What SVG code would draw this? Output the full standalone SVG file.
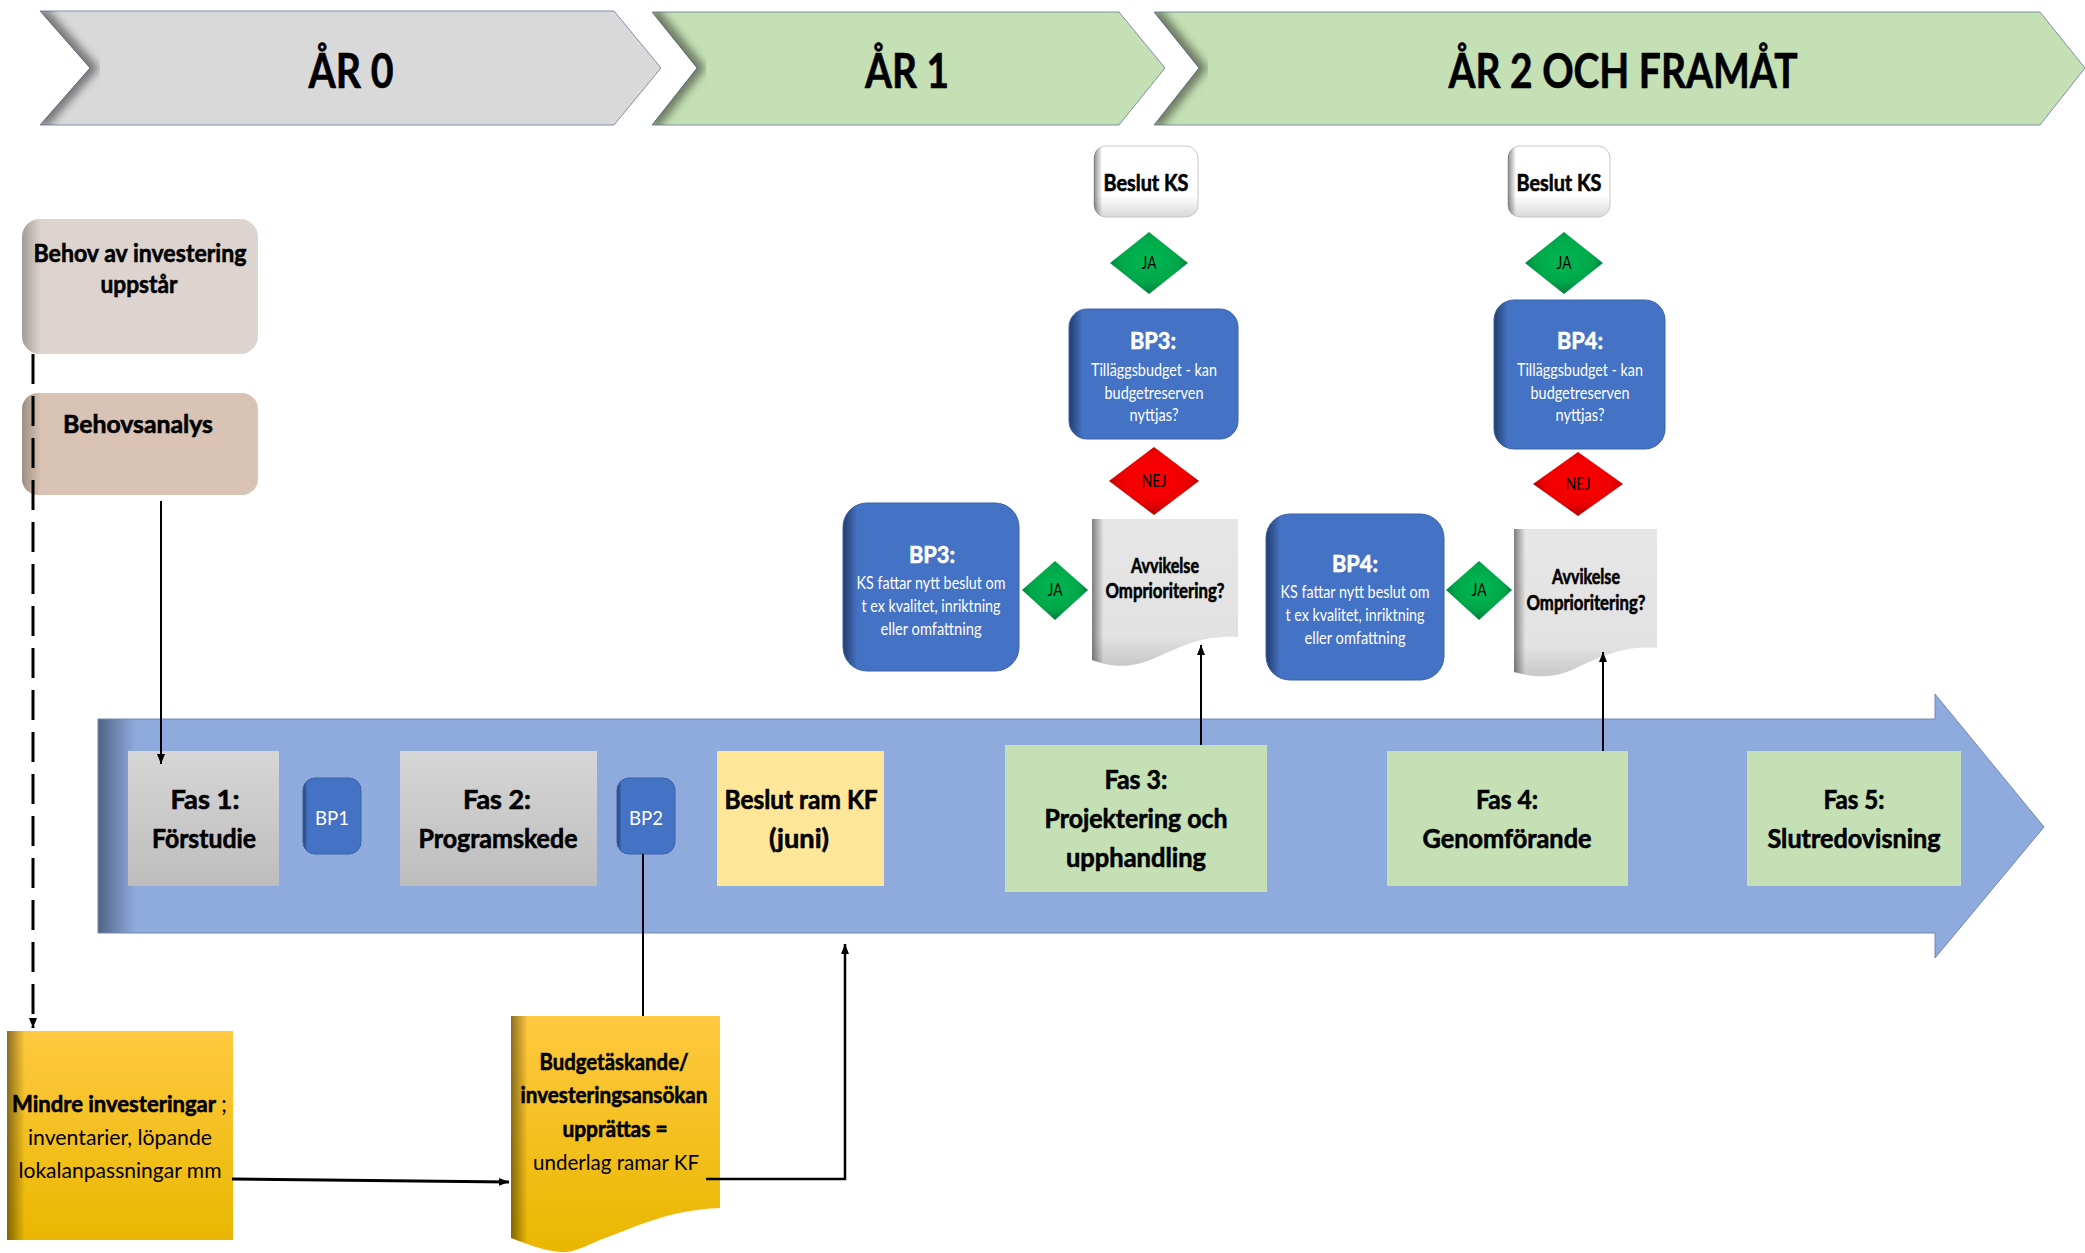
<svg xmlns="http://www.w3.org/2000/svg" width="2085" height="1253" viewBox="0 0 2085 1253">
<style>
.t{font-family:Lato,'Liberation Sans',sans-serif;text-anchor:middle;fill:#000}
.b{font-weight:700;stroke:#000;stroke-width:.6}
.w{fill:#fff}
.b.w{stroke:#fff}
.ln{fill:none;stroke:#000;stroke-width:2}
.hd{stroke:#7F8FA6;stroke-width:1}
.sh{fill:none;stroke:#000;stroke-width:14;stroke-opacity:.45;filter:url(#blur)}
.blue{fill:url(#gBlue);stroke:#3A62A8;stroke-width:1}
.edge{fill:url(#gEdge)}
</style>
<defs>
<filter id="blur" x="-20%" y="-20%" width="140%" height="140%"><feGaussianBlur stdDeviation="4"/></filter>
<marker id="arr" viewBox="0 0 10 10" refX="10" refY="5" markerWidth="10" markerHeight="10" markerUnits="userSpaceOnUse" orient="auto"><path d="M0,1 L10,5 L0,9 z" fill="#000"/></marker>
<linearGradient id="gBlue" x1="0" y1="0" x2="1" y2="0"><stop offset="0" stop-color="#233D6B"/><stop offset=".08" stop-color="#4472C4"/><stop offset="1" stop-color="#4472C4"/></linearGradient>
<linearGradient id="gEdge" x1="0" y1="0" x2="1" y2="0"><stop offset="0" stop-color="#000" stop-opacity=".45"/><stop offset=".08" stop-color="#000" stop-opacity="0"/><stop offset="1" stop-color="#000" stop-opacity="0"/></linearGradient>
<linearGradient id="gBand" gradientUnits="userSpaceOnUse" x1="98" y1="0" x2="135" y2="0"><stop offset="0" stop-color="#4F6284"/><stop offset="1" stop-color="#8FAADC"/></linearGradient>
<linearGradient id="gGray" x1="0" y1="0" x2="0" y2="1"><stop offset="0" stop-color="#D6D6D6"/><stop offset="1" stop-color="#BDBDBD"/></linearGradient>
<linearGradient id="gGold" x1="0" y1="0" x2="0" y2="1"><stop offset="0" stop-color="#FFC940"/><stop offset="1" stop-color="#E9B700"/></linearGradient>
<linearGradient id="gWhite" x1="0" y1="0" x2="0" y2="1"><stop offset="0" stop-color="#FFFFFF"/><stop offset=".7" stop-color="#FFFFFF"/><stop offset="1" stop-color="#D8D8D8"/></linearGradient>
<linearGradient id="gDoc" x1="0" y1="0" x2="0" y2="1"><stop offset="0" stop-color="#E6E6E6"/><stop offset=".8" stop-color="#E2E2E2"/><stop offset="1" stop-color="#C8C8C8"/></linearGradient>
<radialGradient id="gGreen" cx=".5" cy=".45" r=".6"><stop offset="0" stop-color="#00B853"/><stop offset=".6" stop-color="#00A84A"/><stop offset="1" stop-color="#00703A"/></radialGradient>
<radialGradient id="gRed" cx=".5" cy=".45" r=".6"><stop offset="0" stop-color="#FF0000"/><stop offset=".6" stop-color="#F00000"/><stop offset="1" stop-color="#A00000"/></radialGradient>
<clipPath id="c0"><polygon points="40,11 614,11 661,68 614,125 40,125 90,68"/></clipPath>
<clipPath id="c1"><polygon points="652,12 1119,12 1165,68 1119,125 652,125 697,68"/></clipPath>
<clipPath id="c2"><polygon points="1154,12 2040,12 2085,68 2040,125 1154,125 1199,68"/></clipPath>
</defs>

<rect x="0" y="0" width="2085" height="1253" fill="#fff"/>

<g id="header-ar0">
<polygon class="hd" points="40,11 614,11 661,68 614,125 40,125 90,68" fill="#D9D9D9"/>
<polyline class="sh" clip-path="url(#c0)" points="40,11 90,68 40,125"/>
<text class="t b" x="351" y="88" font-size="48" textLength="85" lengthAdjust="spacingAndGlyphs">ÅR 0</text>
</g>
<g id="header-ar1">
<polygon class="hd" points="652,12 1119,12 1165,68 1119,125 652,125 697,68" fill="#C5E0B4"/>
<polyline class="sh" clip-path="url(#c1)" points="652,12 697,68 652,125"/>
<text class="t b" x="907" y="88" font-size="48" textLength="84" lengthAdjust="spacingAndGlyphs">ÅR 1</text>
</g>
<g id="header-ar2">
<polygon class="hd" points="1154,12 2040,12 2085,68 2040,125 1154,125 1199,68" fill="#C5E0B4"/>
<polyline class="sh" clip-path="url(#c2)" points="1154,12 1199,68 1154,125"/>
<text class="t b" x="1623" y="88" font-size="48" textLength="349" lengthAdjust="spacingAndGlyphs">ÅR 2 OCH FRAMÅT</text>
</g>

<g id="band">
<polygon points="98,719 1935,719 1935,694 2044,827 1935,958 1935,933 98,933" fill="url(#gBand)" stroke="#7488B0" stroke-width="1"/>
</g>

<g id="behov">
<rect x="22" y="219" width="236" height="135" rx="18" fill="#DDD4CF"/>
<rect x="22" y="219" width="236" height="135" rx="18" class="edge" opacity=".6"/>
<text class="t b" x="140" y="262" font-size="25" textLength="213" lengthAdjust="spacingAndGlyphs">Behov av investering</text>
<text class="t b" x="139" y="293" font-size="25" textLength="77" lengthAdjust="spacingAndGlyphs">uppstår</text>
</g>
<g id="behovsanalys">
<rect x="22" y="393" width="236" height="102" rx="16" fill="#D9C3B4"/>
<rect x="22" y="393" width="236" height="102" rx="16" class="edge" opacity=".6"/>
<text class="t b" x="138" y="433" font-size="25" textLength="150" lengthAdjust="spacingAndGlyphs">Behovsanalys</text>
</g>

<g id="fas1">
<rect x="128" y="751" width="151" height="135" fill="url(#gGray)"/>
<text class="t b" x="205" y="809" font-size="26" textLength="69" lengthAdjust="spacingAndGlyphs">Fas 1:</text>
<text class="t b" x="204" y="848" font-size="26" textLength="104" lengthAdjust="spacingAndGlyphs">Förstudie</text>
</g>
<g id="bp1">
<rect class="blue" x="303" y="778" width="58" height="76" rx="12"/>
<text class="t w" x="332" y="825" font-size="19" textLength="34" lengthAdjust="spacingAndGlyphs">BP1</text>
</g>
<g id="fas2">
<rect x="400" y="751" width="197" height="135" fill="url(#gGray)"/>
<text class="t b" x="497" y="809" font-size="26" textLength="68" lengthAdjust="spacingAndGlyphs">Fas 2:</text>
<text class="t b" x="498" y="848" font-size="26" textLength="159" lengthAdjust="spacingAndGlyphs">Programskede</text>
</g>
<g id="bp2">
<rect class="blue" x="617" y="778" width="58" height="76" rx="12"/>
<text class="t w" x="646" y="825" font-size="19" textLength="34" lengthAdjust="spacingAndGlyphs">BP2</text>
</g>
<g id="beslut-ram-kf">
<rect x="717" y="751" width="167" height="135" fill="#FFE699"/>
<text class="t b" x="801" y="809" font-size="26" textLength="153" lengthAdjust="spacingAndGlyphs">Beslut ram KF</text>
<text class="t b" x="799" y="848" font-size="26" textLength="60" lengthAdjust="spacingAndGlyphs">(juni)</text>
</g>
<g id="fas3">
<rect x="1005" y="745" width="262" height="147" fill="#C5E0B4"/>
<text class="t b" x="1136" y="789" font-size="26" textLength="63" lengthAdjust="spacingAndGlyphs">Fas 3:</text>
<text class="t b" x="1136" y="828" font-size="26" textLength="183" lengthAdjust="spacingAndGlyphs">Projektering och</text>
<text class="t b" x="1136" y="867" font-size="26" textLength="140" lengthAdjust="spacingAndGlyphs">upphandling</text>
</g>
<g id="fas4">
<rect x="1387" y="751" width="241" height="135" fill="#C5E0B4"/>
<text class="t b" x="1507" y="809" font-size="26" textLength="62" lengthAdjust="spacingAndGlyphs">Fas 4:</text>
<text class="t b" x="1507" y="848" font-size="26" textLength="169" lengthAdjust="spacingAndGlyphs">Genomförande</text>
</g>
<g id="fas5">
<rect x="1747" y="751" width="214" height="135" fill="#C5E0B4"/>
<text class="t b" x="1854" y="809" font-size="26" textLength="61" lengthAdjust="spacingAndGlyphs">Fas 5:</text>
<text class="t b" x="1854" y="848" font-size="26" textLength="173" lengthAdjust="spacingAndGlyphs">Slutredovisning</text>
</g>

<g id="beslut-ks-1">
<rect x="1094" y="146" width="104" height="71" rx="12" fill="url(#gWhite)" stroke="#C8C8C8" stroke-width="1"/>
<rect x="1094" y="146" width="104" height="71" rx="12" class="edge"/>
<text class="t b" x="1146" y="191" font-size="22" textLength="85" lengthAdjust="spacingAndGlyphs">Beslut KS</text>
</g>
<g id="ja-1">
<polygon points="1149,232 1188,263 1149,294 1110,263" fill="url(#gGreen)"/>
<text class="t" x="1149" y="269" font-size="17" textLength="15" lengthAdjust="spacingAndGlyphs">JA</text>
</g>
<g id="bp3-top">
<rect class="blue" x="1069" y="309" width="169" height="130" rx="18"/>
<text class="t b w" x="1153" y="349" font-size="23" textLength="46" lengthAdjust="spacingAndGlyphs">BP3:</text>
<text class="t w" x="1154" y="376" font-size="17" textLength="126" lengthAdjust="spacingAndGlyphs">Tilläggsbudget - kan</text>
<text class="t w" x="1154" y="399" font-size="17" textLength="99" lengthAdjust="spacingAndGlyphs">budgetreserven</text>
<text class="t w" x="1154" y="421" font-size="17" textLength="49" lengthAdjust="spacingAndGlyphs">nyttjas?</text>
</g>
<g id="nej-1">
<polygon points="1154,447 1199,481 1154,515 1109,481" fill="url(#gRed)"/>
<text class="t" x="1154" y="487" font-size="18" textLength="25" lengthAdjust="spacingAndGlyphs">NEJ</text>
</g>
<g id="avvikelse-1">
<path d="M1092,519 L1238,519 L1238,637 C1200,634 1175,650 1150,660 C1125,670 1105,665 1092,660 Z" fill="url(#gDoc)"/>
<path d="M1092,519 L1238,519 L1238,637 C1200,634 1175,650 1150,660 C1125,670 1105,665 1092,660 Z" class="edge"/>
<text class="t b" x="1165" y="573" font-size="20" textLength="68" lengthAdjust="spacingAndGlyphs">Avvikelse</text>
<text class="t b" x="1165" y="598" font-size="20" textLength="119" lengthAdjust="spacingAndGlyphs">Omprioritering?</text>
</g>
<g id="bp3-left">
<rect class="blue" x="843" y="503" width="176" height="168" rx="24"/>
<text class="t b w" x="932" y="563" font-size="23" textLength="46" lengthAdjust="spacingAndGlyphs">BP3:</text>
<text class="t w" x="931" y="589" font-size="17" textLength="149" lengthAdjust="spacingAndGlyphs">KS fattar nytt beslut om</text>
<text class="t w" x="931" y="612" font-size="17" textLength="139" lengthAdjust="spacingAndGlyphs">t ex kvalitet, inriktning</text>
<text class="t w" x="931" y="635" font-size="17" textLength="101" lengthAdjust="spacingAndGlyphs">eller omfattning</text>
</g>
<g id="ja-left-1">
<polygon points="1055,561 1088,590 1055,620 1022,590" fill="url(#gGreen)"/>
<text class="t" x="1055" y="596" font-size="17" textLength="15" lengthAdjust="spacingAndGlyphs">JA</text>
</g>

<g id="beslut-ks-2">
<rect x="1508" y="146" width="102" height="71" rx="12" fill="url(#gWhite)" stroke="#C8C8C8" stroke-width="1"/>
<rect x="1508" y="146" width="102" height="71" rx="12" class="edge"/>
<text class="t b" x="1559" y="191" font-size="22" textLength="85" lengthAdjust="spacingAndGlyphs">Beslut KS</text>
</g>
<g id="ja-2">
<polygon points="1564,232 1603,263 1564,294 1525,263" fill="url(#gGreen)"/>
<text class="t" x="1564" y="269" font-size="17" textLength="15" lengthAdjust="spacingAndGlyphs">JA</text>
</g>
<g id="bp4-top">
<rect class="blue" x="1494" y="300" width="171" height="149" rx="20"/>
<text class="t b w" x="1580" y="349" font-size="23" textLength="46" lengthAdjust="spacingAndGlyphs">BP4:</text>
<text class="t w" x="1580" y="376" font-size="17" textLength="126" lengthAdjust="spacingAndGlyphs">Tilläggsbudget - kan</text>
<text class="t w" x="1580" y="399" font-size="17" textLength="99" lengthAdjust="spacingAndGlyphs">budgetreserven</text>
<text class="t w" x="1580" y="421" font-size="17" textLength="49" lengthAdjust="spacingAndGlyphs">nyttjas?</text>
</g>
<g id="nej-2">
<polygon points="1578,452 1623,484 1578,516 1533,484" fill="url(#gRed)"/>
<text class="t" x="1578" y="490" font-size="18" textLength="25" lengthAdjust="spacingAndGlyphs">NEJ</text>
</g>
<g id="avvikelse-2">
<path d="M1514,529 L1657,529 L1657,648 C1620,645 1595,660 1572,670 C1548,680 1528,676 1514,672 Z" fill="url(#gDoc)"/>
<path d="M1514,529 L1657,529 L1657,648 C1620,645 1595,660 1572,670 C1548,680 1528,676 1514,672 Z" class="edge"/>
<text class="t b" x="1586" y="584" font-size="20" textLength="68" lengthAdjust="spacingAndGlyphs">Avvikelse</text>
<text class="t b" x="1586" y="610" font-size="20" textLength="119" lengthAdjust="spacingAndGlyphs">Omprioritering?</text>
</g>
<g id="bp4-left">
<rect class="blue" x="1266" y="514" width="178" height="166" rx="24"/>
<text class="t b w" x="1355" y="572" font-size="23" textLength="46" lengthAdjust="spacingAndGlyphs">BP4:</text>
<text class="t w" x="1355" y="598" font-size="17" textLength="149" lengthAdjust="spacingAndGlyphs">KS fattar nytt beslut om</text>
<text class="t w" x="1355" y="621" font-size="17" textLength="139" lengthAdjust="spacingAndGlyphs">t ex kvalitet, inriktning</text>
<text class="t w" x="1355" y="644" font-size="17" textLength="101" lengthAdjust="spacingAndGlyphs">eller omfattning</text>
</g>
<g id="ja-left-2">
<polygon points="1479,561 1512,590 1479,620 1446,590" fill="url(#gGreen)"/>
<text class="t" x="1479" y="596" font-size="17" textLength="15" lengthAdjust="spacingAndGlyphs">JA</text>
</g>

<g id="mindre">
<rect x="7" y="1031" width="226" height="209" fill="url(#gGold)"/>
<rect x="7" y="1031" width="226" height="209" class="edge"/>
<text class="t b" x="114" y="1112" font-size="23" textLength="204" lengthAdjust="spacingAndGlyphs">Mindre investeringar</text>
<text class="t" x="221" y="1112" font-size="23" style="text-anchor:start">;</text>
<text class="t" x="120" y="1145" font-size="22" textLength="184" lengthAdjust="spacingAndGlyphs">inventarier, löpande</text>
<text class="t" x="120" y="1178" font-size="22" textLength="203" lengthAdjust="spacingAndGlyphs">lokalanpassningar mm</text>
</g>
<g id="budget">
<path d="M511,1016 L720,1016 L720,1208 C670,1210 640,1225 600,1240 C580,1249 570,1253 560,1252 C540,1250 525,1243 511,1238 Z" fill="url(#gGold)"/>
<path d="M511,1016 L720,1016 L720,1208 C670,1210 640,1225 600,1240 C580,1249 570,1253 560,1252 C540,1250 525,1243 511,1238 Z" class="edge"/>
<text class="t b" x="614" y="1070" font-size="22" textLength="149" lengthAdjust="spacingAndGlyphs">Budgetäskande/</text>
<text class="t b" x="614" y="1103" font-size="22" textLength="187" lengthAdjust="spacingAndGlyphs">investeringsansökan</text>
<text class="t b" x="615" y="1137" font-size="22" textLength="105" lengthAdjust="spacingAndGlyphs">upprättas =</text>
<text class="t" x="616" y="1170" font-size="22" textLength="166" lengthAdjust="spacingAndGlyphs">underlag ramar KF</text>
</g>

<g id="connectors">
<path d="M33,354 V1028" fill="none" stroke="#000" stroke-width="3" stroke-dasharray="30 12" marker-end="url(#arr)"/>
<path class="ln" d="M161,501 V764" marker-end="url(#arr)"/>
<path class="ln" d="M1201,745 V645" marker-end="url(#arr)"/>
<path class="ln" d="M1603,751 V652" marker-end="url(#arr)"/>
<path class="ln" d="M643,854 V1016"/>
<path d="M232,1179 L509,1182" fill="none" stroke="#000" stroke-width="3" marker-end="url(#arr)"/>
<path d="M706,1179 H845 V944" fill="none" stroke="#000" stroke-width="2.5" marker-end="url(#arr)"/>
</g>
</svg>
